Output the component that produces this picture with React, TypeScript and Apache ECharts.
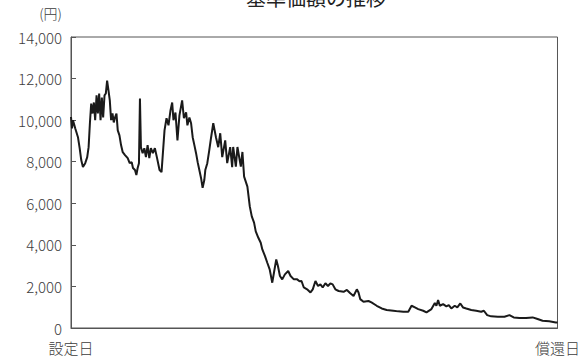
import React, { useEffect, useRef } from "react";
import * as echarts from "echarts";

// elapsed period from the inception date (arbitrary time units), redemption at the end
const elapsed = [
  0, 1, 2, 4.3, 7, 8.7, 10.3, 12, 14.3, 16.3, 17.7, 19, 20.3, 21.7, 23, 24.3, 25.7, 27, 28.3, 29.7,
  31, 32.3, 33.7, 35, 36.3, 37.7, 39, 40.3, 41.7, 43, 44.3, 45.7, 47, 48.7, 50.3, 52, 54.3, 57, 59, 61,
  62.3, 64.3, 65.7, 67, 68.3, 69.3, 70.3, 72, 73.7, 75.3, 77, 78.7, 80.3, 82.3, 84.3, 86.3, 89, 91, 94, 96,
  98, 100, 101.7, 103, 105, 107, 109, 111.7, 113.5, 115.7, 117, 119, 120.7, 122.3, 124, 125.7, 127.3, 129, 130.7, 132.3,
  134, 135, 137, 139, 140.7, 143, 145.7, 148, 150, 152, 155, 157, 160, 162, 163, 165.7, 167.3, 170.7, 172.3, 174,
  177.3, 179.7, 181.7, 184, 185.7, 188.3, 190.7, 192.3, 195, 197.3, 199.7, 202.3, 204, 206.3, 208, 210, 212.3, 215, 218.3, 220.7,
  224, 227.3, 229.7, 231.7, 234, 237.3, 240.7, 243, 245.7, 248.3, 250.7, 253, 255.7, 258.3, 260.7, 263, 265.7, 269, 274, 277.3,
  280.7, 284, 287.3, 289, 290.7, 294, 299, 302, 307.3, 312.3, 317.3, 324, 329, 334, 339, 342.3, 345.7, 349, 354, 357.3,
  362.3, 365.7, 367.3, 369, 370.7, 374, 377.3, 379.7, 382.3, 385.7, 388.3, 391.3, 394, 397.3, 402.3, 407.3, 412.3, 415, 418.3, 422.3,
  429, 435.7, 440.7, 445, 450.7, 457.3, 464, 469, 474, 480.7, 487.3, 489
];

// net asset value per 10,000 units (円)
const nav = [
  10150, 9600, 10000, 9600, 9180, 8650, 8080, 7740, 7930, 8220, 8700, 9850, 10800, 10320, 10850, 10000, 11190, 10320, 11280, 10000,
  11090, 10130, 11190, 11280, 11900, 11420, 10950, 10000, 10320, 9890, 10130, 10320, 9510, 9270, 8800, 8460, 8320, 8170, 7930, 7980,
  7700, 7600, 7360, 7700, 7930, 11040, 8700, 8410, 8650, 8220, 8800, 8170, 8650, 8410, 8650, 8220, 7600, 7500, 9510, 10090,
  9750, 10470, 10850, 10000, 10370, 9030, 10230, 10950, 10090, 10370, 9750, 10130, 9850, 9180, 8800, 8410, 7980, 7600, 7220, 6740,
  7120, 7600, 7930, 8560, 9130, 9850, 9180, 8700, 9370, 8220, 9030, 7930, 8700, 7740, 8710, 7760, 8710, 7760, 8470, 7280,
  6800, 5850, 5370, 5070, 4650, 4340, 4100, 3780, 3460, 3140, 2820, 2180, 2660, 3300, 2980, 2500, 2340, 2580, 2740, 2500,
  2340, 2340, 2250, 2260, 1950, 1860, 1710, 1860, 2260, 2020, 2100, 1950, 2150, 2020, 2150, 2100, 1860, 1780, 1740, 1830,
  1670, 1540, 1860, 1710, 1390, 1260, 1300, 1230, 1070, 940, 870, 830, 800, 780, 780, 1070, 990, 910, 830, 750,
  910, 1200, 1070, 1350, 1070, 1150, 1040, 1100, 940, 1070, 990, 1180, 990, 940, 870, 830, 780, 830, 620, 560,
  540, 540, 620, 510, 480, 480, 510, 430, 350, 320, 270, 270
];

const xEndLabels = ["設定日", "償還日"];
const yTicks = { min: 0, max: 14000, interval: 2000 };
const titleText = "基準価額の推移";
const unitText = "(円)";

const FONT = "'Noto Sans CJK JP', 'Noto Sans', sans-serif";
const LABEL_COLOR = "#3c3c3c";

export default function App() {
  const ref = useRef<HTMLDivElement>(null);

  useEffect(() => {
    if (!ref.current) return;
    const chart = echarts.init(ref.current, undefined, { renderer: "svg" });
    const data = elapsed.map((t, i) => [t, nav[i]]);
    const tMax = elapsed[elapsed.length - 1];
    chart.setOption({
      animation: false,
      backgroundColor: "#fff",
      textStyle: { fontFamily: FONT },
      graphic: [
        {
          type: "text",
          x: 316,
          y: -3,
          style: {
            text: titleText,
            fontSize: 20,
            fontFamily: FONT,
            fill: "#222",
            align: "center",
            verticalAlign: "middle",
          },
        },
      ],
      grid: { left: 71, right: 23, top: 37, bottom: 32, show: true, borderColor: "#555", borderWidth: 1 },
      xAxis: {
        type: "value",
        min: 0,
        max: tMax,
        interval: tMax,
        axisLine: { show: true, lineStyle: { color: "#555", width: 1 } },
        axisTick: { show: false },
        splitLine: { show: false },
        axisLabel: {
          color: LABEL_COLOR,
          fontSize: 15,
          fontWeight: 300,
          fontFamily: FONT,
          margin: 12,
          formatter: (v: number) => (v === 0 ? xEndLabels[0] : xEndLabels[1]),
        },
      },
      yAxis: {
        type: "value",
        min: yTicks.min,
        max: yTicks.max,
        interval: yTicks.interval,
        name: unitText,
        nameLocation: "end",
        nameGap: 17,
        nameTextStyle: {
          color: LABEL_COLOR,
          fontSize: 14,
          fontWeight: 300,
          fontFamily: FONT,
          align: "right",
          padding: [0, 9, 0, 0],
        },
        axisLine: { show: true, lineStyle: { color: "#555", width: 1 } },
        axisTick: { show: true, inside: true, length: 5, lineStyle: { color: "#555" } },
        splitLine: { show: false },
        axisLabel: {
          color: LABEL_COLOR,
          fontSize: 15,
          fontWeight: 300,
          fontFamily: FONT,
          margin: 9,
          padding: [0, 0, 4, 0],
          formatter: (v: number) => v.toLocaleString("en-US"),
        },
      },
      series: [
        {
          type: "line",
          data,
          showSymbol: false,
          symbol: "none",
          lineStyle: { color: "#1a1a1a", width: 2 },
        },
      ],
    });
    return () => chart.dispose();
  }, []);

  return (
    <div
      ref={ref}
      style={{ position: "fixed", left: 0, top: 0, width: 583, height: 360 }}
    />
  );
}
